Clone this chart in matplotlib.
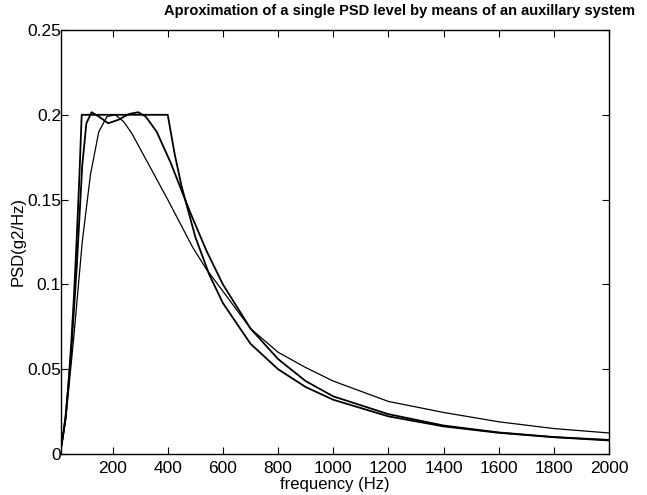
import matplotlib
matplotlib.use("Agg")
import matplotlib.pyplot as plt

plt.rcParams['font.family'] = ['Liberation Sans', 'DejaVu Sans']

# Target PSD level (trapezoid-like specification)
f_target = [13, 20, 30, 40, 50, 60, 70, 80, 88, 400, 425, 450, 500, 550, 600, 700,
            800, 900, 1000, 1200, 1400, 1600, 1800, 2000]
psd_target = [0.004, 0.010, 0.023, 0.041, 0.065, 0.093, 0.127, 0.165, 0.200, 0.200,
              0.177, 0.158, 0.128, 0.106, 0.089, 0.065, 0.050, 0.0395, 0.032, 0.0222,
              0.0163, 0.0125, 0.0099, 0.0080]

# Auxiliary-system approximation (double hump)
f_resp_a = [13, 30, 50, 70, 90, 105, 124, 150, 184, 220, 260, 293, 320, 360, 410, 480,
            540, 600, 700, 800, 900, 1000, 1200, 1400, 1600, 1800, 2000]
psd_resp_a = [0.003, 0.022, 0.06, 0.11, 0.17, 0.195, 0.2015, 0.199, 0.195, 0.197, 0.2005,
              0.2015, 0.199, 0.19, 0.172, 0.143, 0.12, 0.1, 0.074, 0.056, 0.043, 0.034,
              0.0235, 0.0168, 0.0127, 0.0100, 0.0083]

# Single-peak approximation
f_resp_b = [13, 30, 60, 90, 120, 150, 180, 210, 240, 270, 300, 330, 360, 400, 445, 490,
            540, 600, 700, 800, 900, 1000, 1100, 1200, 1400, 1600, 1800, 2000]
psd_resp_b = [0.003, 0.02, 0.07, 0.125, 0.165, 0.19, 0.199, 0.2, 0.196, 0.189, 0.18,
              0.171, 0.162, 0.150, 0.136, 0.122, 0.109, 0.096, 0.074, 0.06, 0.051, 0.043,
              0.037, 0.031, 0.0245, 0.019, 0.0150, 0.0124]

x_ticks = [200, 400, 600, 800, 1000, 1200, 1400, 1600, 1800, 2000]
y_ticks = [0, 0.05, 0.1, 0.15, 0.2, 0.25]
y_tick_labels = ['0', '0.05', '0.1', '0.15', '0.2', '0.25']

fig = plt.figure(figsize=(6.47, 4.95), dpi=100)
ax = fig.add_axes([61/647, 1-454/495, (609-61)/647, (454-30)/495])

ax.plot(f_target, psd_target, color='black', lw=1.3)
ax.plot(f_resp_a, psd_resp_a, color='black', lw=1.3)
ax.plot(f_resp_b, psd_resp_b, color='black', lw=0.9)

ax.set_xlim(13, 2000)
ax.set_ylim(0, 0.25)
ax.set_xticks(x_ticks)
ax.set_xticklabels([str(t) for t in x_ticks], fontsize=12.5)
ax.set_yticks(y_ticks)
ax.set_yticklabels(y_tick_labels, fontsize=12.5)
ax.tick_params(direction='in', length=5, top=True, right=True)
ax.tick_params(axis='x', pad=5)
ax.tick_params(axis='y', pad=0)
for s in ax.spines.values():
    s.set_linewidth(1.0)

ax.set_xlabel('frequency (Hz)', fontsize=12, labelpad=1)
ax.set_ylabel('PSD(g2/Hz)', fontsize=12, labelpad=1)
fig.text(400/647, 1-11/495, 'Aproximation of a single PSD level by means of an auxillary system',
         ha='center', va='center', fontsize=10.5, fontweight='bold')

fig.savefig('out.png', dpi=100)
